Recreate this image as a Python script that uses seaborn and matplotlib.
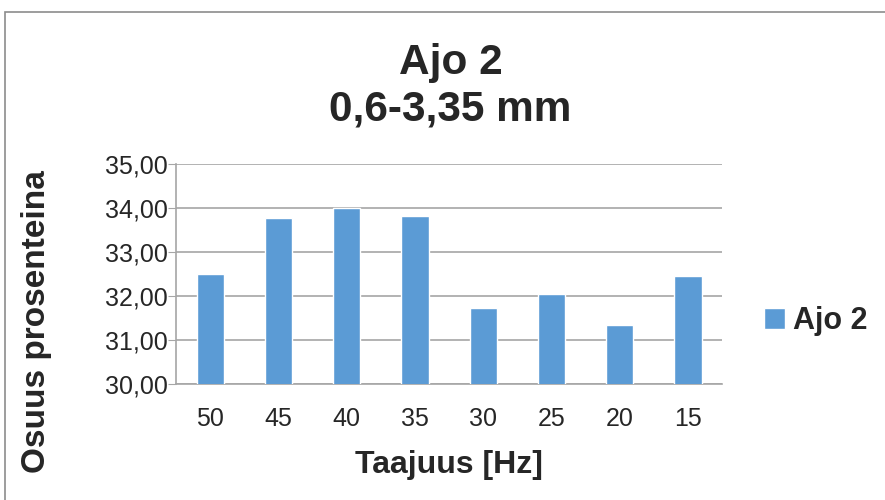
import pandas as pd
import numpy as np
import matplotlib.pyplot as plt
import seaborn as sns
from matplotlib.ticker import FuncFormatter
from matplotlib.patches import Rectangle

# data
taajuus = ['50', '45', '40', '35', '30', '25', '20', '15']
osuus = [32.50, 33.77, 34.01, 33.81, 31.73, 32.04, 31.34, 32.46]
y_ticks = [30, 31, 32, 33, 34, 35]

df = pd.DataFrame({'Taajuus': taajuus, 'Osuus': osuus})

sns.set_style('white')
plt.rcParams['font.family'] = ['Liberation Sans', 'DejaVu Sans']

fig = plt.figure(figsize=(8.85, 5), dpi=100)
ax = fig.add_axes([0.199, 0.232, 0.617, 0.440])

# outer chart border (partly cut off like the original)
fig.patches.append(Rectangle((5 / 885, -0.1), 1.2, 1 - 12 / 500 + 0.1,
                             transform=fig.transFigure, fill=False,
                             edgecolor='#8c8c8c', linewidth=1.2))

sns.barplot(x='Taajuus', y='Osuus', data=df, order=taajuus, color='#5B9BD5',
            width=0.4, saturation=1, label='Ajo 2', ax=ax, zorder=3)

ax.set_ylim(30, 35)
ax.set_yticks(y_ticks)
ax.yaxis.set_major_formatter(FuncFormatter(lambda v, p: f'{v:.2f}'.replace('.', ',')))
ax.grid(axis='y', color='#a6a6a6', linewidth=1.2, zorder=0)
ax.set_axisbelow(True)

for s in ['top', 'right']:
    ax.spines[s].set_visible(False)
ax.spines['left'].set_color('#a6a6a6')
ax.spines['bottom'].set_color('#a6a6a6')
ax.spines['left'].set_linewidth(1.2)
ax.spines['bottom'].set_linewidth(1.2)

ax.tick_params(axis='y', left=True, length=6, color='#a6a6a6', labelsize=18, pad=0)
ax.tick_params(axis='x', bottom=False, labelsize=18, pad=13)

ax.set_xlabel('Taajuus [Hz]', fontsize=23, fontweight='bold', labelpad=14)
ax.set_ylabel('Osuus prosenteina', fontsize=24, fontweight='bold')
ax.yaxis.set_label_coords(-0.227, 0.286)
fig.text(0.509, 0.828, 'Ajo 2\n0,6-3,35 mm', ha='center', va='center',
         fontsize=30.5, fontweight='bold', linespacing=1.2)

ax.legend(loc='center left', bbox_to_anchor=(0.846, 0.358), bbox_transform=fig.transFigure,
          frameon=False, handlelength=0.7, handleheight=0.7, handletextpad=0.25,
          borderpad=0, prop={'size': 22, 'weight': 'bold'})

fig.savefig('out.png', dpi=100)
